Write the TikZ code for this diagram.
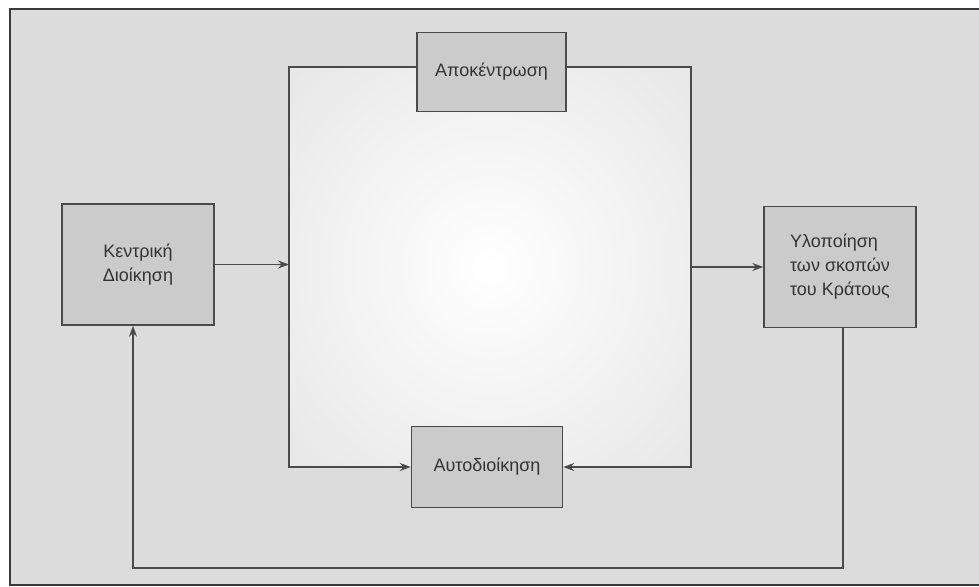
\documentclass[tikz,border=0pt]{standalone}
\usepackage{fontspec}
\setmainfont{Liberation Sans}
\usetikzlibrary{arrows.meta}
\definecolor{bg}{HTML}{DCDCDC}
\definecolor{boxfill}{HTML}{CBCBCB}
\definecolor{ink}{HTML}{4A4A4A}
\definecolor{frameink}{HTML}{3A3A3A}
\tikzset{
  stagebox/.style={draw=ink, line width=0.7pt, fill=boxfill, inner sep=0pt,
    font=\fontsize{9}{12}\selectfont, text=black!80, align=center},
  flow/.style={draw=ink, line width=0.6pt},
  arr/.style={flow, -{Stealth[length=5.5pt,width=4pt]}},
}
\begin{document}
\begin{tikzpicture}[x=0.5pt, y=-0.5pt]
\useasboundingbox (0,0) rectangle (979,587);
\fill[white] (0,0) rectangle (979,587);
% background frame
\fill[bg] (10,9) rectangle (979,585);
\draw[frameink, line width=1.3pt] (979,9) -- (10,9) -- (10,585) -- (979,585);
% lighter central area
\begin{scope}
\clip (289,67) rectangle (691,467);
\shade[inner color=white, outer color=bg!80!white] (490,267) ellipse (330 and 340);
\end{scope}

% corner coordinates of the loop
\coordinate (TL) at (289,67);
\coordinate (TR) at (691,67);
\coordinate (BL) at (289,467);
\coordinate (BR) at (691,467);
\coordinate (FB) at (843,568);

% boxes
\node[stagebox, minimum width=76pt, minimum height=60.5pt] (K) at (138,264.5) {Κεντρική\\Διοίκηση};
\node[stagebox, minimum width=74.5pt, minimum height=39.5pt] (A) at (491.5,72) {Αποκέντρωση};
\node[stagebox, minimum width=76pt, minimum height=60.5pt, align=left] (Y) at (840,267) {Υλοποίηση\\των σκοπών\\του Κράτους};
\node[stagebox, minimum width=75.5pt, minimum height=40.5pt] (D) at (487,467) {Αυτοδιοίκηση};

% connectors
\draw[arr] (TL -| A.west) -- (TL) -- (BL) -- (D.west);
\draw[arr] (TR -| A.east) -- (TR) -- (BR) -- (D.east);
\draw[arr] (K.east) -- (K.east -| TL);
\draw[arr] (Y.west -| TR) -- (Y.west);
\draw[arr] ([xshift=1.5pt]Y.south) -- ([xshift=1.5pt]Y.south |- FB) -- ([xshift=-2.5pt]K.south |- FB) -- ([xshift=-2.5pt]K.south);
\end{tikzpicture}
\end{document}
